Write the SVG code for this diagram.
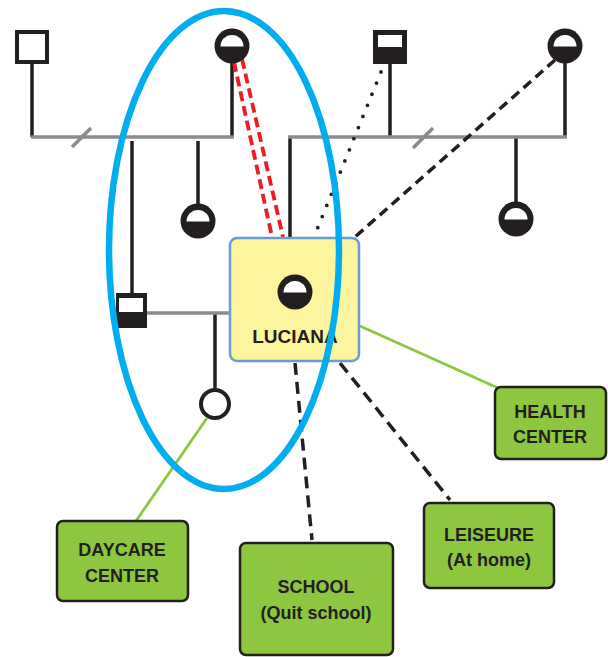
<svg xmlns="http://www.w3.org/2000/svg" width="608" height="657" viewBox="0 0 608 657">
<style>
.blk{stroke:#231f20;stroke-width:3.5;fill:none}
.gry{stroke:#8a8c8e;stroke-width:3.5;fill:none}
.grn{stroke:#8dc63f;stroke-width:2.8;fill:none}
.red{stroke:#ed1c24;stroke-width:3.8;stroke-dasharray:10 5;fill:none}
.dash{stroke:#231f20;stroke-width:3.5;stroke-dasharray:10 6;fill:none}
.dash2{stroke:#231f20;stroke-width:3.5;stroke-dasharray:12 7;fill:none}
.dot{stroke:#231f20;stroke-width:3.8;stroke-dasharray:0 12;stroke-linecap:round;fill:none}
.box{fill:#8dc63f;stroke:#231f20;stroke-width:2.5}
.lbl{font-family:"Liberation Sans",Arial,sans-serif;font-weight:bold;font-size:18px;fill:#231f20;text-anchor:middle}
</style>
<defs>
<g id="half">
<circle r="17.5" fill="#231f20"/>
<path d="M-11.5 0.5 A11.5 11.5 0 0 1 11.5 0.5 Z" fill="#fff"/>
</g>
</defs>
<rect width="608" height="657" fill="#fff"/>
<g id="connectors">
<line class="blk" x1="32" y1="64" x2="32" y2="137"/>
<line class="blk" x1="232" y1="63" x2="232" y2="137"/>
<line class="blk" x1="132" y1="141" x2="132" y2="294"/>
<line class="blk" x1="198" y1="141" x2="198" y2="205"/>
<line class="blk" x1="390" y1="64" x2="390" y2="137"/>
<line class="blk" x1="565" y1="63" x2="565" y2="137"/>
<line class="blk" x1="516" y1="138" x2="516" y2="203"/>
<line class="blk" x1="290" y1="138" x2="290" y2="238"/>
<line class="blk" x1="215" y1="313" x2="215" y2="390"/>
<line class="gry" x1="31" y1="137" x2="234" y2="137"/>
<line class="gry" x1="288" y1="137" x2="567" y2="137"/>
<line class="gry" x1="72" y1="147" x2="91" y2="128"/>
<line class="gry" x1="413" y1="148" x2="433" y2="128"/>
<line class="gry" x1="147" y1="313" x2="231" y2="313"/>
<line class="red" x1="234" y1="62" x2="272" y2="237"/>
<line class="red" x1="242" y1="59" x2="283" y2="237"/>
<line class="dot" x1="381" y1="72" x2="316" y2="232"/>
<line class="dash" x1="555" y1="60" x2="355" y2="237"/>
<line class="dash2" x1="295" y1="363" x2="312" y2="540"/>
<line class="dash2" x1="340" y1="363" x2="450" y2="500"/>
<line class="grn" x1="360" y1="326" x2="498" y2="388"/>
<line class="grn" x1="207" y1="418" x2="136" y2="521"/>
</g>
<g id="grandfather1"><rect x="17" y="32" width="30" height="30" fill="#fff" stroke="#231f20" stroke-width="4"/></g>
<g id="grandmother1"><use href="#half" x="232" y="46"/></g>
<g id="grandfather2"><rect x="373" y="30" width="34" height="34" fill="#231f20"/><rect x="378" y="35" width="24" height="12" fill="#fff"/></g>
<g id="grandmother2"><use href="#half" x="565" y="46"/></g>
<g id="aunt1"><use href="#half" x="198" y="221"/></g>
<g id="aunt2"><use href="#half" x="516" y="219"/></g>
<g id="father"><rect x="116" y="293" width="31" height="35" fill="#231f20"/><rect x="119" y="298" width="24" height="14" fill="#fff"/></g>
<g id="child"><circle cx="215" cy="404" r="14" fill="#fff" stroke="#231f20" stroke-width="4"/></g>
<g id="luciana">
<rect x="230" y="238" width="129" height="123" rx="7" fill="#fdf59d" stroke="#6b9bd1" stroke-width="2.5"/>
<use href="#half" x="295" y="292"/>
<text class="lbl" x="295" y="343" style="font-size:19px">LUCIANA</text>
</g>
<g id="daycare"><rect class="box" x="57" y="521" width="131" height="80" rx="6"/>
<text class="lbl" x="122" y="556">DAYCARE</text><text class="lbl" x="122" y="582">CENTER</text></g>
<g id="school"><rect class="box" x="240" y="543" width="153" height="112" rx="6"/>
<text class="lbl" x="316" y="593">SCHOOL</text><text class="lbl" x="316" y="619">(Quit school)</text></g>
<g id="leisure"><rect class="box" x="424" y="503" width="130" height="85" rx="6"/>
<text class="lbl" x="489" y="541">LEISEURE</text><text class="lbl" x="489" y="566">(At home)</text></g>
<g id="health"><rect class="box" x="495" y="387" width="111" height="72" rx="6"/>
<text class="lbl" x="550" y="418">HEALTH</text><text class="lbl" x="550" y="443">CENTER</text></g>
<g id="household"><ellipse cx="224" cy="250" rx="115" ry="239" fill="none" stroke="#00aeef" stroke-width="6.5"/></g>
</svg>
